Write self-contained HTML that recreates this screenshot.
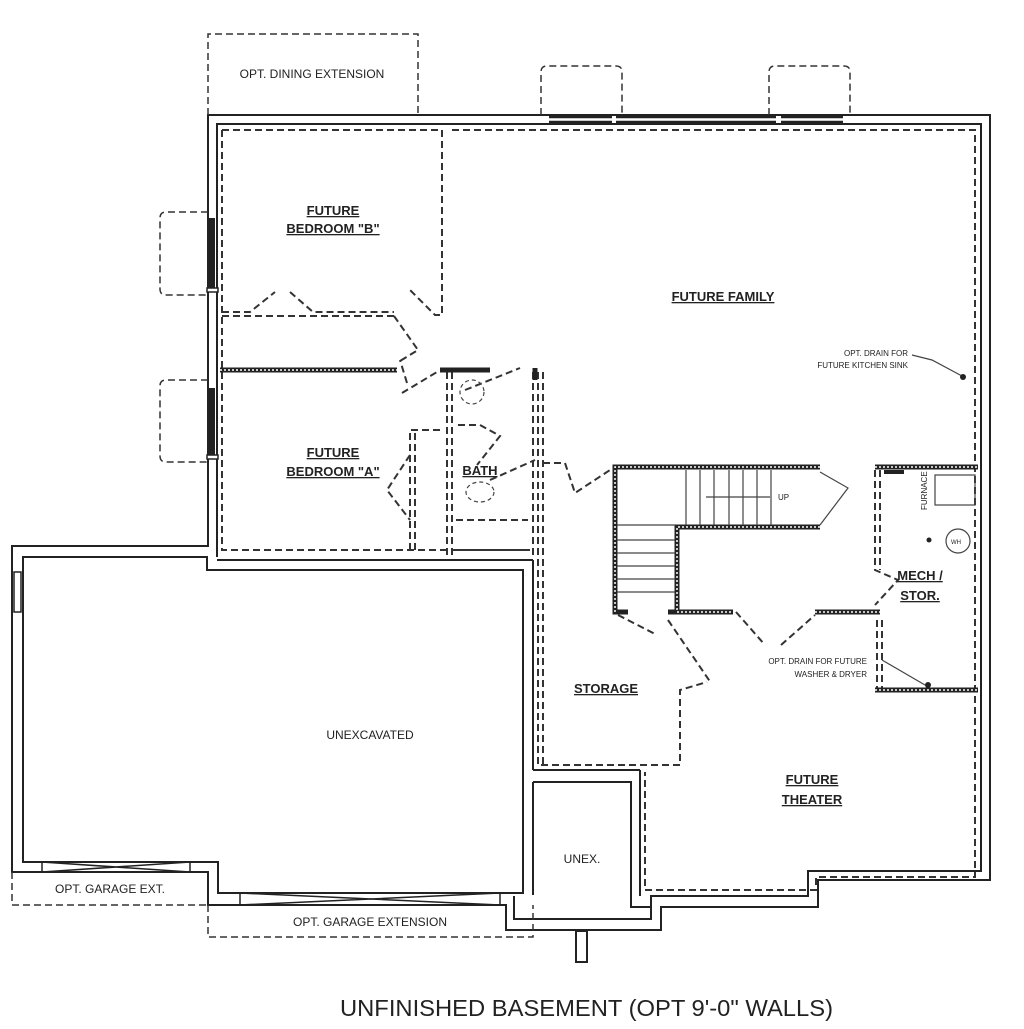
<!DOCTYPE html>
<html><head><meta charset="utf-8"><style>
html,body{margin:0;padding:0;background:#fff;}
svg{display:block;}
text{font-family:"Liberation Sans",sans-serif;fill:#222;}
.b{font-weight:bold;font-size:13px;text-decoration:underline;}
.s{font-size:12px;}
.t{font-size:8px;}
</style></head><body>
<svg width="1024" height="1029" viewBox="0 0 1024 1029" xmlns="http://www.w3.org/2000/svg">
<g fill="none" stroke="#222" stroke-width="2">
<path d="M12,872 V546 H208 V115 H990 V880 H818 V907 H661 V930 H506 V905 H208 V872 Z"/>
<path d="M217,557 V124 H981 V871 H808 V896 H651 V919 H514 V896"/>
<path d="M23,862 V557 H207 V570 H523 V893 H218 V862 Z"/>
<line x1="217" y1="560" x2="533" y2="560"/>
<line x1="533" y1="560" x2="533" y2="770"/>
<line x1="533" y1="770" x2="640" y2="770"/>
<line x1="640" y1="770" x2="640" y2="896"/>
<path d="M533,782 H631 V907 H651"/>
<path d="M533,782 V895"/>
<rect x="576" y="931" width="11" height="31"/>
</g>
<!-- top windows: double thin lines -->
<g stroke="#222" stroke-width="2.5">
<line x1="549" y1="117" x2="612" y2="117"/><line x1="549" y1="122" x2="612" y2="122"/>
<line x1="616" y1="117" x2="776" y2="117"/><line x1="616" y1="122" x2="776" y2="122"/>
<line x1="781" y1="117" x2="843" y2="117"/><line x1="781" y1="122" x2="843" y2="122"/>
</g>
<g stroke="#222" stroke-width="6">
<line x1="212" y1="218" x2="212" y2="288"/><line x1="212" y1="388" x2="212" y2="455"/>
</g>
<g fill="#fff" stroke="#222" stroke-width="1.5">
<rect x="207" y="288" width="11" height="4"/><rect x="207" y="455" width="11" height="4"/>
<rect x="14" y="572" width="7" height="40"/>
</g>
<g stroke="#222" stroke-width="1.5" fill="none">
<rect x="42" y="862" width="148" height="10"/><path d="M42,862 L190,872 M42,872 L190,862"/>
<rect x="240" y="893" width="260" height="12"/><path d="M240,893 L500,905 M240,905 L500,893"/>
</g>
<g fill="none" stroke="#333" stroke-width="1.5" stroke-dasharray="7,4">
<path d="M208,115 V34 H418 V115"/>
<path d="M541,115 V72 Q541,66 547,66 H616 Q622,66 622,72 V115"/>
<path d="M769,115 V72 Q769,66 775,66 H844 Q850,66 850,72 V115"/>
<path d="M208,212 H166 Q160,212 160,218 V289 Q160,295 166,295 H208"/>
<path d="M208,380 H166 Q160,380 160,386 V456 Q160,462 166,462 H208"/>
<path d="M12,872 V905 H208"/>
<path d="M208,905 V937 H533 V905"/>
</g>
<g fill="none" stroke="#333" stroke-width="2" stroke-dasharray="7,4">
<path d="M222,130 H442 V315 H435 L408,288"/>
<path d="M452,130 H975 V877 H816 V890 H645 V772"/>
<path d="M222,130 V550 H530"/>
<path d="M222,312 H250 L275,292 M290,292 L313,312 H394"/>
<path d="M222,316 H394"/>
<path d="M394,316 L418,350 L400,361"/>
<path d="M407,383 L400,360 M402,393 L437,372"/>
<path d="M447,372 V555 M452,372 V555"/>
<path d="M533,372 V555 M538,372 V765 H680 V690 L707,682"/>
<path d="M543,372 V765"/>
<path d="M410,550 V430 H440 M415,550 V432"/>
<path d="M410,455 L387,490 L410,520"/>
<path d="M458,425 H480 L500,436 L477,465"/>
<path d="M456,520 H528 M456,550 H530"/>
<path d="M465,390 L520,368 M490,480 L535,460"/>
<path d="M543,463 H565 L575,493 L610,470"/>
<path d="M618,615 L657,635 M668,620 L711,683"/>
<path d="M736,612 L765,645 M781,645 L815,615"/>
<path d="M875,470 V570 L898,580 L875,605 M880,470 V570 M877,620 V690 M882,620 V690"/>
</g>
<g stroke="#222" stroke-width="5" fill="none">
<line x1="220" y1="370" x2="397" y2="370"/>
<line x1="440" y1="370" x2="490" y2="370"/>
<line x1="535" y1="368" x2="535" y2="380"/>
<path d="M820,467 H615 V612 H628"/>
<path d="M820,527 H677 V612 H668 H733"/>
<line x1="815" y1="612" x2="880" y2="612"/>
<line x1="875" y1="467" x2="978" y2="467"/>
<line x1="875" y1="690" x2="978" y2="690"/>
</g>
<g stroke="#fff" stroke-width="1.5" stroke-dasharray="2,2" fill="none">
<line x1="220" y1="370" x2="397" y2="370"/>
<path d="M820,467 H615 V612"/><path d="M820,527 H677 V612 H733"/>
<line x1="815" y1="612" x2="880" y2="612"/><line x1="875" y1="467" x2="978" y2="467"/><line x1="875" y1="690" x2="978" y2="690"/>
</g>
<g stroke="#444" stroke-width="1.2" fill="none">
<path d="M686,470 V525 M700,470 V525 M714,470 V525 M729,470 V525 M743,470 V525 M757,470 V525 M771,470 V525"/>
<path d="M617,540 H675 M617,553 H675 M617,566 H675 M617,579 H675 M617,592 H675 M617,525 H675"/>
<path d="M706,497 H770"/>
<path d="M820,472 L848,488 L820,525"/>
<rect x="935" y="475" width="40" height="30"/>
<circle cx="958" cy="541" r="12"/>
<path d="M912,355 L932,360 L962,376"/>
<path d="M882,660 L925,685"/>
<circle cx="472" cy="392" r="12" stroke-dasharray="4,3"/>
<ellipse cx="480" cy="492" rx="14" ry="10" stroke-dasharray="4,3"/>
</g>
<g fill="#222"><circle cx="963" cy="377" r="3"/><circle cx="928" cy="685" r="3"/><circle cx="929" cy="540" r="2.5"/><rect x="884" y="470" width="20" height="4"/></g>
<text class="b" x="333" y="215" text-anchor="middle">FUTURE</text>
<text class="b" x="333" y="233" text-anchor="middle">BEDROOM "B"</text>
<text class="b" x="333" y="457" text-anchor="middle">FUTURE</text>
<text class="b" x="333" y="476" text-anchor="middle">BEDROOM "A"</text>
<text class="b" x="480" y="475" text-anchor="middle">BATH</text>
<text class="b" x="723" y="301" text-anchor="middle">FUTURE FAMILY</text>
<text class="b" x="920" y="580" text-anchor="middle">MECH /</text>
<text class="b" x="920" y="600" text-anchor="middle">STOR.</text>
<text class="b" x="606" y="693" text-anchor="middle">STORAGE</text>
<text class="b" x="812" y="784" text-anchor="middle">FUTURE</text>
<text class="b" x="812" y="804" text-anchor="middle">THEATER</text>
<text class="s" x="312" y="78" text-anchor="middle">OPT. DINING EXTENSION</text>
<text class="s" x="370" y="739" text-anchor="middle">UNEXCAVATED</text>
<text class="s" x="582" y="863" text-anchor="middle">UNEX.</text>
<text class="s" x="110" y="893" text-anchor="middle">OPT. GARAGE EXT.</text>
<text class="s" x="370" y="926" text-anchor="middle">OPT. GARAGE EXTENSION</text>
<text class="t" x="908" y="356" text-anchor="end">OPT. DRAIN FOR</text>
<text class="t" x="908" y="368" text-anchor="end">FUTURE KITCHEN SINK</text>
<text class="t" x="867" y="664" text-anchor="end">OPT. DRAIN FOR FUTURE</text>
<text class="t" x="867" y="677" text-anchor="end">WASHER &amp; DRYER</text>
<text class="t" x="778" y="500">UP</text>
<text class="t" x="0" y="0" transform="translate(927,510) rotate(-90)">FURNACE</text>
<text style="font-size:6px" x="951" y="544">WH</text>
<text x="340" y="1016" textLength="493" lengthAdjust="spacingAndGlyphs" style="font-size:23px;">UNFINISHED BASEMENT (OPT 9'-0" WALLS)</text>
</svg>
</body></html>
